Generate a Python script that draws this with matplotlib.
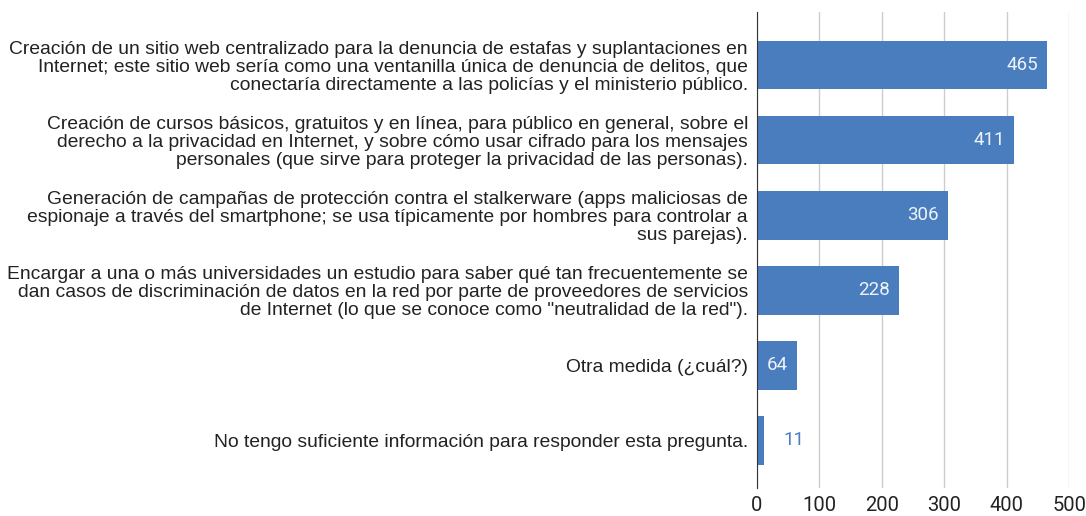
import matplotlib.pyplot as plt

plt.rcParams['font.family'] = ['Liberation Sans', 'DejaVu Sans']

categories = [
    "Creación de un sitio web centralizado para la denuncia de estafas y suplantaciones en\n"
    "Internet; este sitio web sería como una ventanilla única de denuncia de delitos, que\n"
    "conectaría directamente a las policías y el ministerio público.",
    "Creación de cursos básicos, gratuitos y en línea, para público en general, sobre el\n"
    "derecho a la privacidad en Internet, y sobre cómo usar cifrado para los mensajes\n"
    "personales (que sirve para proteger la privacidad de las personas).",
    "Generación de campañas de protección contra el stalkerware (apps maliciosas de\n"
    "espionaje a través del smartphone; se usa típicamente por hombres para controlar a\n"
    "sus parejas).",
    "Encargar a una o más universidades un estudio para saber qué tan frecuentemente se\n"
    "dan casos de discriminación de datos en la red por parte de proveedores de servicios\n"
    "de Internet (lo que se conoce como \"neutralidad de la red\").",
    "Otra medida (¿cuál?)",
    "No tengo suficiente información para responder esta pregunta.",
]
values = [465, 411, 306, 228, 64, 11]
xticks = [0, 100, 200, 300, 400, 500]

bar_color = "#4a7dbd"
num_font = ["Roboto", "DejaVu Sans"]

fig = plt.figure(figsize=(10.86, 5.16), dpi=100)
ax = fig.add_axes([0.697, 0.054, 0.2875, 0.923])

ypos = list(range(len(values)))
ax.barh(ypos, values, height=0.65, color=bar_color, zorder=3)

for y, v in zip(ypos, values):
    if v > 40:
        ax.annotate(str(v), (v, y), xytext=(-6.5, 0), textcoords="offset points",
                    ha="right", va="center", color="#eef3fa", fontsize=13.5,
                    family=num_font, zorder=4)
    else:
        ax.annotate(str(v), (v, y), xytext=(14, 0), textcoords="offset points",
                    ha="left", va="center", color=bar_color, fontsize=13.5,
                    family=num_font, zorder=4)

ax.set_xlim(0, 500)
ax.set_ylim(5.64, -0.71)
ax.set_xticks(xticks)
ax.set_xticklabels([str(t) for t in xticks], family=num_font)
ax.set_yticks(ypos)
ax.set_yticklabels(categories, fontsize=13.9, color="#222222", linespacing=1.05)
ax.tick_params(axis="x", length=0, labelsize=14.5, colors="#222222", pad=6)
ax.tick_params(axis="y", length=0, pad=6.5)
ax.grid(axis="x", color="#cccccc", linewidth=1, zorder=0)
for s in ["top", "right", "bottom"]:
    ax.spines[s].set_visible(False)
ax.spines["left"].set_color("#333333")
ax.spines["left"].set_zorder(5)

fig.savefig("out.png", dpi=100)
